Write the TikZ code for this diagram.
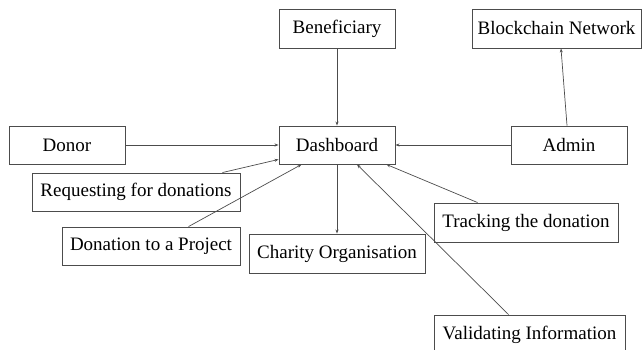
\documentclass[tikz,border=0pt]{standalone}
\usepackage{fontspec}
\setmainfont{Liberation Serif}
\usetikzlibrary{calc,arrows.meta}
\begin{document}
\begin{tikzpicture}[x=1pt,y=-1pt,
  box/.style={draw=black!70,line width=0.9pt,fill=white,inner sep=0pt,
    minimum height=38pt,font=\fontsize{19}{22}\selectfont},
  conn/.style={draw=black!70,line width=0.7pt,-{Stealth[length=4pt,width=3pt]}}]
\useasboundingbox (0,0) rectangle (644,350);
\node[box,minimum width=116pt,minimum height=39pt] (ben) at (337,28.5) {Beneficiary};
\node[box,minimum width=169pt,minimum height=39pt] (bc) at (556.5,28.5) {Blockchain Network};
\node[box,minimum width=116pt] (donor) at (67,145) {Donor};
\node[box,minimum width=116pt] (dash) at (337,145) {Dashboard};
\node[box,minimum width=116pt] (admin) at (569,145) {Admin};
\node[box,minimum width=208pt] (req) at (136,192) {Requesting for donations};
\node[box,minimum width=178pt] (don) at (151,246) {Donation to a Project};
\node[box,minimum width=176pt,minimum height=39pt] (char) at (337,253.5) {Charity Organisation};
\node[box,minimum width=184pt,minimum height=39pt] (track) at (526,222.5) {Tracking the donation};
\node[box,minimum width=191pt,minimum height=39pt] (val) at (529.5,334.5) {Validating Information};

\draw[conn] (ben.south) -- (dash.north);
\draw[conn] (donor.east) -- (dash.west);
\draw[conn] (admin.west) -- (dash.east);
\draw[conn] ($(admin.north)+(-2,0)$) -- ($(bc.south)+(4.5,0)$);
\draw[conn] (dash.south) -- (char.north);
\draw[conn] ($(req.north east)+(-18,0)$) -- ($(dash.south west)+(0,-5)$);
\draw[conn] ($(don.north west)+(127,0)$) -- ($(dash.south west)+(23,0)$);
\draw[conn] ($(val.north west)+(75,0)$) -- ($(dash.south)+(20,0)$);
\draw[conn] ($(track.north west)+(44,0)$) -- ($(dash.south east)+(-9,0)$);
\end{tikzpicture}
\end{document}
